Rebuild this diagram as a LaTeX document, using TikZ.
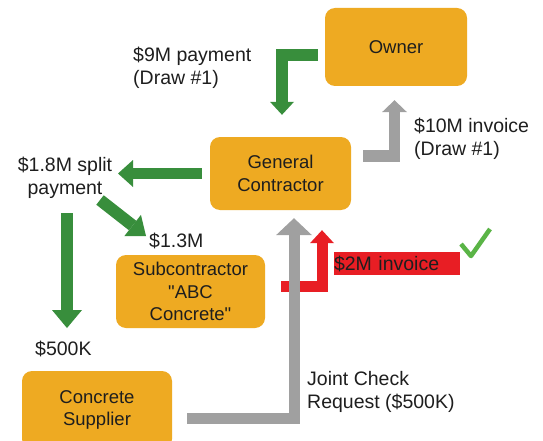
\documentclass[tikz,border=0pt]{standalone}
\usepackage{fontspec}
\setmainfont{Liberation Sans}[Ligatures=TeXOff]
\usetikzlibrary{arrows.meta,calc}
\definecolor{boxorange}{RGB}{238,170,34}
\definecolor{agreen}{RGB}{56,142,60}
\definecolor{agray}{RGB}{160,160,160}
\definecolor{ared}{RGB}{232,30,36}
\definecolor{chk}{RGB}{90,180,70}
\definecolor{txt}{RGB}{30,30,30}
\begin{document}
\begin{tikzpicture}[x=1pt,y=-1pt,
  box/.style={fill=boxorange, rounded corners=10pt, align=center, text=txt,
    inner sep=0pt, font=\fontsize{18.5}{22.5}\selectfont},
  lbl/.style={text=txt, inner sep=0pt, font=\fontsize{19.5}{23}\selectfont},
  blockarrow/.style={line join=miter, line cap=butt},
  garrow/.style={blockarrow, draw=agreen},
  grarrow/.style={blockarrow, draw=agray},
  rarrow/.style={blockarrow, draw=ared}]
\clip (0,0) rectangle (543,441);
\useasboundingbox (0,0) rectangle (543,441);
\fill[white] (0,0) rectangle (543,441);

% boxes
\node[box, minimum width=142pt, minimum height=78pt] (owner) at (396,47) {Owner};
\node[box, minimum width=141pt, minimum height=73pt] (gc) at (280.5,173.5) {General\\Contractor};
\node[box, minimum width=149pt, minimum height=73pt] (sub) at (190.5,291.5) {Subcontractor\\"ABC\\Concrete"};
\node[box, minimum width=150pt, minimum height=78pt] (sup) at (97,410) {Concrete\\Supplier};

% labels
\node[lbl, anchor=north west, align=left] (l9) at (133,47) {\$9M payment\\(Draw \#1)};
\node[lbl, anchor=north west, align=left] (l10) at (414,118) {\$10M invoice\\(Draw \#1)};
\node[lbl, anchor=north, align=center] (lsplit) at (65,157) {\$1.8M split\\payment};
\node[lbl, anchor=base west] (l13) at (149,247) {\$1.3M};
\node[lbl, anchor=base west] (l500) at (35,355) {\$500K};
\node[lbl, anchor=north west, align=left] (ljc) at (307,371) {Joint Check\\Request (\$500K)};
\node[lbl, fill=ared, text width=126pt, minimum height=23pt, align=left] (l2m) at (397,263.5) {\$2M invoice};

% free ends
\coordinate (splitend) at (118,173.5);
\coordinate (diagstart) at (100,200);
\coordinate (diagend) at (146,236);
\coordinate (downstart) at (67,213);
\coordinate (downend) at (67,328);
\coordinate (redstart) at (281,286.5);

% Owner -> GC payment
\draw[garrow, line width=12.5pt, -{Triangle[length=13pt,width=24pt,line width=0pt]}]
  ($(owner.west)+(-7,8)$) -| ($(gc.north)+(1.5,-22)$);
% GC -> Owner invoice
\draw[grarrow, line width=11.5pt, -{Triangle[length=12pt,width=25pt,line width=0pt]}]
  ($(gc.east)+(12,-17.5)$) -| ($(owner.south)+(-1.5,14)$);
% GC -> split
\draw[garrow, line width=11.5pt, -{Triangle[length=15pt,width=27pt,line width=0pt]}]
  ($(gc.west)+(-8,0)$) -- (splitend);
% split -> subcontractor
\draw[garrow, line width=12pt, -{Triangle[length=17pt,width=27pt,line width=0pt]}]
  (diagstart) -- (diagend);
% split -> supplier
\draw[garrow, line width=12pt, -{Triangle[length=18pt,width=30pt,line width=0pt]}]
  (downstart) -- (downend);
% red invoice
\draw[rarrow, line width=11pt, -{Triangle[length=13pt,width=24pt,line width=0pt]}]
  (redstart) -| ($(gc.south)+(41.5,20)$);
% joint check request
\draw[grarrow, line width=11pt, -{Triangle[length=17pt,width=36pt,line width=0pt]}]
  ($(sup.east)+(15,8.5)$) -| ($(gc.south)+(13.5,8)$);

% check mark
\draw[chk, line width=4.5pt, line join=round] (461,244) -- (471,256) -- (490,229);
\end{tikzpicture}
\end{document}
